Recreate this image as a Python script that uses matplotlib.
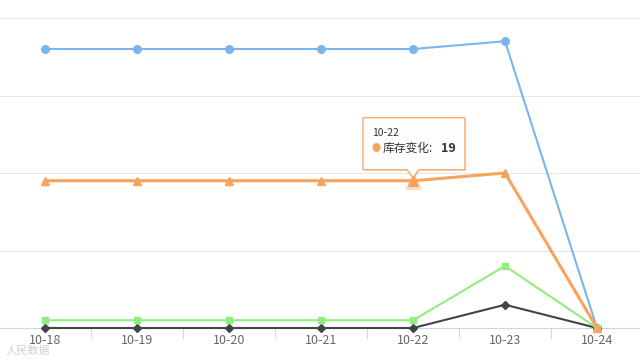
import matplotlib
matplotlib.use("Agg")
import matplotlib.pyplot as plt
from matplotlib.patches import Polygon
from matplotlib.transforms import Affine2D

plt.rcParams['font.family'] = ['Noto Sans CJK SC', 'DejaVu Sans']

# 数据
dates = ["10-18", "10-19", "10-20", "10-21", "10-22", "10-23", "10-24"]
blue_vals = [36, 36, 36, 36, 36, 37, 0]
black_vals = [0, 0, 0, 0, 0, 3, 0]
green_vals = [1, 1, 1, 1, 1, 8, 0]
stock_change = [19, 19, 19, 19, 19, 20, 0]   # 库存变化

x = list(range(len(dates)))

fig = plt.figure(figsize=(6.4, 3.6), dpi=100)
ax = fig.add_axes([0, 32 / 360, 1, 310 / 360])

ax.set_xlim(-45 / 92, 595 / 92)
ax.set_ylim(0, 40)

# 网格线
ax.set_yticks([10, 20, 30, 40])
ax.yaxis.grid(True, color="#e6e6e6", linewidth=0.75)
ax.tick_params(axis="y", length=0, labelleft=False)
ax.set_axisbelow(True)

for s in ["top", "left", "right"]:
    ax.spines[s].set_visible(False)
ax.spines["bottom"].set_color("#ccd6eb")
ax.spines["bottom"].set_linewidth(0.8)

ax.set_xticks(x)
ax.set_xticklabels(dates)
ax.set_xticks([i + 0.5 for i in x[:-1]], minor=True)
ax.tick_params(axis="x", which="major", length=0, pad=4, labelsize=9, labelcolor="#666666")
ax.tick_params(axis="x", which="minor", length=7, color="#ccd6eb", width=0.8)

# 折线
ax.plot(x, blue_vals, color="#7cb5ec", lw=1.5, marker="o", ms=5.5, clip_on=False, zorder=3)
ax.plot(x, black_vals, color="#434348", lw=1.5, marker="D", ms=4, clip_on=False, zorder=3)
ax.plot(x, green_vals, color="#90ed7d", lw=1.5, marker="s", ms=5, clip_on=False, zorder=3)
ax.plot(x, stock_change, color="#f7a35c", lw=2.2, marker="^", ms=5.5, clip_on=False, zorder=4)

# 悬停点
hx, hy = x[4], stock_change[4]
ax.plot([hx], [hy], marker="^", ms=11, color="#f7a35c", alpha=0.25, zorder=4, clip_on=False)
ax.plot([hx], [hy], marker="^", ms=7.5, color="#f7a35c", zorder=5, clip_on=False)

# 提示框
fig.canvas.draw()
px, py = ax.transData.transform((hx, hy))
tr = Affine2D().translate(px, py)
pts = [(-50, 11), (-6, 11), (0, 3), (6, 11), (52, 11), (52, 63), (-50, 63)]
shadow = Polygon([(a + 1.5, b - 1.5) for a, b in pts], closed=True, transform=tr,
                 facecolor="#000000", alpha=0.08, edgecolor="none", zorder=6)
box = Polygon(pts, closed=True, transform=tr, facecolor="white", alpha=0.92,
              edgecolor="#f7a35c", lw=1, zorder=7)
fig.add_artist(shadow)
fig.add_artist(box)

def tip_text(dx, dy, s, **kw):
    fig.text((px + dx) / fig.bbox.width, (py + dy) / fig.bbox.height, s,
             va="center", zorder=8, **kw)

tip_text(-41, 48, "10-22", fontsize=7.5, color="#333333")
tip_text(-41, 32, "●", fontsize=6.5, color="#f7a35c")
tip_text(-30, 32, "库存变化:", fontsize=8.5, color="#333333")
tip_text(28, 32, "19", fontsize=9, color="#333333", fontweight="bold")

# 水印
fig.text(6 / 640, 1 - 351 / 360, "人民数据", fontsize=8, color="#d0d0d0", va="center")

fig.savefig("out.png", dpi=100)
